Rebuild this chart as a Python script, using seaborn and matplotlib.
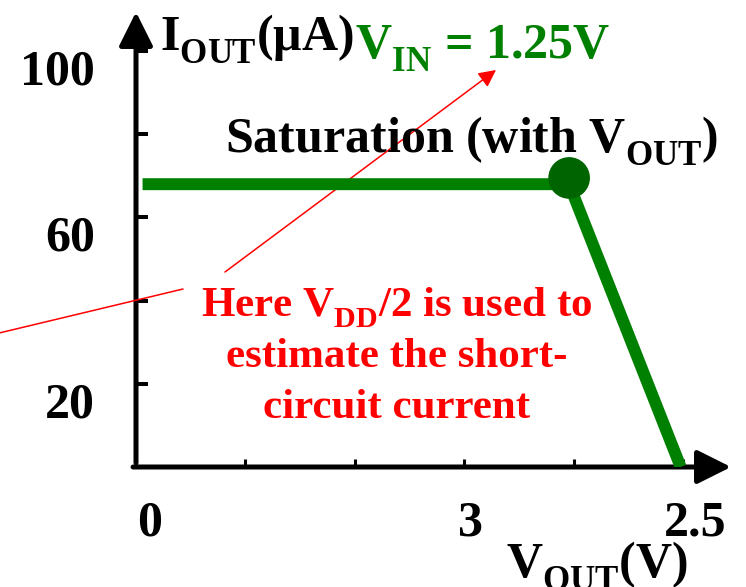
import numpy as np
import pandas as pd
import seaborn as sns
import matplotlib.pyplot as plt
import matplotlib._mathtext as mathtext_internals
from matplotlib.lines import Line2D
from matplotlib.transforms import ScaledTranslation

# I-V curve at V_IN = 1.25V (volts, microamps)
vout = [0.03, 1.98, 2.49]
iout = [68, 68, 0]
knee_v = [1.98]
knee_i = [69.5]

xticks = [0, 0.5, 1.0, 1.5, 2.0, 2.5]
xtick_labels = ["0", "", "", "3", "", "2.5"]
yticks = [20, 40, 60, 80, 100]
ytick_labels = ["20", "", "60", "", "100"]

W, H = 746, 587
GREEN = "#008000"
DARK_GREEN = "#006400"
RED = "#ff0000"

sns.set_style("white")
plt.rcParams["font.family"] = ["Liberation Serif", "DejaVu Serif"]
plt.rcParams["font.weight"] = "bold"
plt.rcParams["text.color"] = "black"
plt.rcParams["mathtext.default"] = "regular"
# subscripts sit lower in the slide than mathtext's default
mathtext_internals.FontConstantsBase.sub1 = 0.6

fig = plt.figure(figsize=(W / 100, H / 100), dpi=100)
ax = fig.add_axes([136 / W, 120 / H, 595 / W, 455 / H])


def px(x, y):
    # pixel position (from top-left) -> figure fraction
    return (x / W, 1 - y / H)


df = pd.DataFrame({"vout": vout, "iout": iout})
sns.lineplot(data=df, x="vout", y="iout", color=GREEN, linewidth=8.6,
             solid_capstyle="butt", ax=ax, zorder=4)
sns.scatterplot(x=knee_v, y=knee_i, color=DARK_GREEN, s=30 ** 2,
                edgecolor="none", ax=ax, zorder=5)

ax.set_xlim(0, 2.72)
ax.set_ylim(0, 109.4)
ax.set_xlabel("")
ax.set_ylabel("")
for s in ax.spines.values():
    s.set_visible(False)

# axes drawn as arrows
arrow = dict(arrowstyle="-|>", color="black", lw=3.6, mutation_scale=52,
             shrinkA=0, shrinkB=0)
ax.annotate("", xy=(1, 0), xytext=(-0.005, 0), xycoords="axes fraction",
            arrowprops=arrow)
ax.annotate("", xy=(0, 1), xytext=(0, 0.009), xycoords="axes fraction",
            arrowprops=arrow)

ax.set_xticks(xticks, xtick_labels)
ax.set_yticks(yticks, ytick_labels)
ax.tick_params(axis="y", left=True, direction="in", length=8.6, width=2.9,
               pad=29.5, labelsize=36, color="black", labelcolor="black")
ax.tick_params(axis="x", bottom=True, direction="in", length=5.8, width=2.2,
               pad=24, labelsize=36, color="black", labelcolor="black")

for lab in ax.get_yticklabels():
    lab.set_transform(lab.get_transform()
                      + ScaledTranslation(0, -16 / 100, fig.dpi_scale_trans))
x_shift = [14, 0, 0, 6, 0, 12]
for lab, dx in zip(ax.get_xticklabels(), x_shift):
    lab.set_transform(lab.get_transform()
                      + ScaledTranslation(dx / 100, 0, fig.dpi_scale_trans))

# titles and labels
fig.text(*px(160, 50), r"I$_{OUT}$(μA)", fontsize=36, va="baseline")
fig.text(*px(355, 58), r"V$_{IN}$ = 1.25V", color=GREEN, fontsize=36,
         va="baseline")
fig.text(*px(225, 152), r"Saturation (with V$_{OUT}$)", fontsize=36,
         va="baseline")
fig.text(*px(506, 577), r"V$_{OUT}$(V)", fontsize=36, va="baseline")

# red note
note = [r"Here V$_{DD}$/2 is used to", "estimate the short-", "circuit current"]
for line, y in zip(note, [317, 367, 418]):
    fig.text(*px(397, y), line, color=RED, fontsize=31, ha="center",
             va="baseline")

ax.annotate("", xy=(496, H - 70), xytext=(225, H - 272),
            xycoords="figure pixels", textcoords="figure pixels",
            arrowprops=dict(arrowstyle="-|>", color=RED, lw=1.1,
                            mutation_scale=26, shrinkA=0, shrinkB=0))
fig.add_artist(Line2D([183 / W, -5 / W], [1 - 289 / H, 1 - 334 / H],
                      transform=fig.transFigure, color=RED, lw=1.1))

fig.savefig("out.png", dpi=100)
